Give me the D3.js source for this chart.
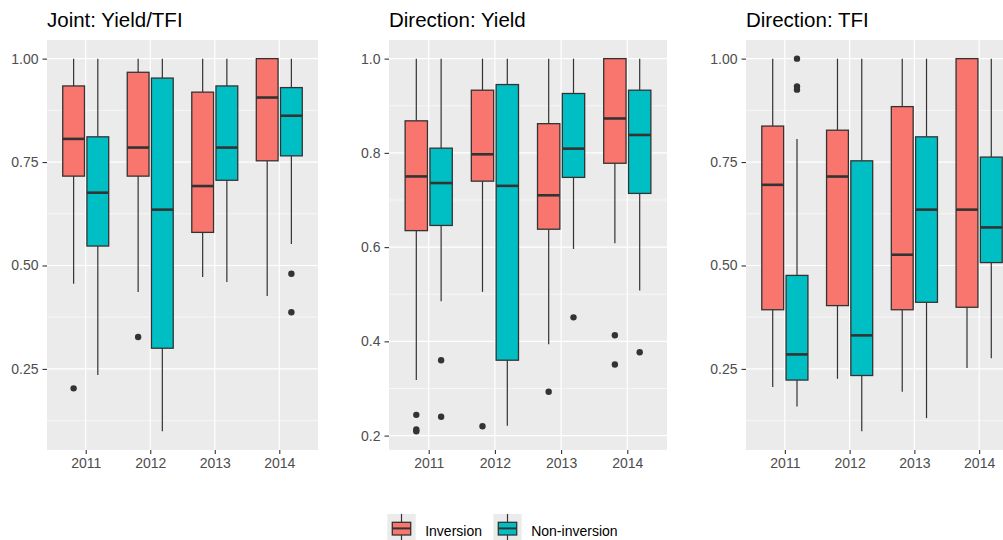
<!DOCTYPE html>
<html>
<head>
<meta charset="utf-8">
<script src="https://cdn.jsdelivr.net/npm/d3@7"></script>
<style>
  html, body { margin: 0; padding: 0; background: #fff; }
  svg { display: block; font-family: "Liberation Sans", Arial, sans-serif; }
</style>
</head>
<body>
<svg id="chart" width="1003" height="540"></svg>
<script>
// Years and groups
const years = ["2011", "2012", "2013", "2014"];
const groups = ["Inversion", "Non-inversion"];
const groupColors = ["#F8766D", "#00BFC4"];

// Box statistics per year: [lower whisker, Q1, median, Q3, upper whisker]
const jointInversion    = [[0.456, 0.716, 0.806, 0.934, 1.00], [0.436, 0.716, 0.785, 0.967, 1.00], [0.472, 0.580, 0.692, 0.919, 1.00], [0.426, 0.753, 0.906, 1.000, 1.00]];
const jointNonInversion = [[0.235, 0.547, 0.676, 0.811, 1.00], [0.099, 0.300, 0.635, 0.953, 1.00], [0.460, 0.706, 0.785, 0.934, 1.00], [0.552, 0.765, 0.862, 0.930, 1.00]];
const jointInversionOut    = [[0.203], [0.327], [], []];
const jointNonInversionOut = [[], [], [], [0.480, 0.387]];

const yieldInversion    = [[0.318, 0.635, 0.750, 0.868, 1.00], [0.505, 0.740, 0.797, 0.933, 1.00], [0.394, 0.638, 0.710, 0.862, 1.00], [0.608, 0.778, 0.873, 1.000, 1.00]];
const yieldNonInversion = [[0.485, 0.646, 0.736, 0.810, 1.00], [0.221, 0.360, 0.730, 0.945, 1.00], [0.596, 0.748, 0.809, 0.926, 1.00], [0.508, 0.714, 0.838, 0.933, 1.00]];
const yieldInversionOut    = [[0.244, 0.213, 0.209], [0.220], [0.293], [0.413, 0.351]];
const yieldNonInversionOut = [[0.360, 0.240], [], [0.451], [0.377]];

const tfiInversion    = [[0.206, 0.393, 0.695, 0.837, 1.00], [0.226, 0.403, 0.715, 0.827, 1.00], [0.195, 0.393, 0.526, 0.884, 1.00], [0.252, 0.399, 0.635, 1.000, 1.00]];
const tfiNonInversion = [[0.159, 0.223, 0.285, 0.476, 0.806], [0.099, 0.234, 0.331, 0.753, 1.00], [0.131, 0.411, 0.635, 0.811, 1.00], [0.276, 0.507, 0.592, 0.762, 1.00]];
const tfiInversionOut    = [[], [], [], []];
const tfiNonInversionOut = [[1.00, 0.933, 0.925], [], [], []];

// Axis tick values
const ticksQuarter = [0.25, 0.50, 0.75, 1.00];
const ticksFifth = [0.2, 0.4, 0.6, 0.8, 1.0];

const panels = [
  { title: "Joint: Yield/TFI", x0: 47, x1: 318, stats: [jointInversion, jointNonInversion], outs: [jointInversionOut, jointNonInversionOut], ticks: ticksQuarter, fmt: d3.format(".2f") },
  { title: "Direction: Yield", x0: 389, x1: 667, stats: [yieldInversion, yieldNonInversion], outs: [yieldInversionOut, yieldNonInversionOut], ticks: ticksFifth, fmt: d3.format(".1f") },
  { title: "Direction: TFI", x0: 746, x1: 1018, stats: [tfiInversion, tfiNonInversion], outs: [tfiInversionOut, tfiNonInversionOut], ticks: ticksQuarter, fmt: d3.format(".2f") }
];

const svg = d3.select("#chart");
const panelTop = 40, panelBottom = 450;
const ink = "#333333";

panels.forEach(p => {
  // y range covers whiskers and outliers, expanded 5% each side
  const vals = [];
  p.stats.forEach(s => s.forEach(r => vals.push(r[0], r[4])));
  p.outs.forEach(o => o.forEach(a => a.forEach(v => vals.push(v))));
  const [mn, mx] = d3.extent(vals);
  const pad = (mx - mn) * 0.05;
  const y = d3.scaleLinear().domain([mn - pad, mx + pad]).range([panelBottom, panelTop]);
  const x = d3.scalePoint().domain(years).range([p.x0, p.x1]).padding(0.6);
  const step = x.step();

  const g = svg.append("g");

  // panel background
  g.append("rect").attr("x", p.x0).attr("y", panelTop)
    .attr("width", p.x1 - p.x0).attr("height", panelBottom - panelTop).attr("fill", "#EBEBEB");

  // minor grid lines at midpoints between ticks
  const tstep = p.ticks[1] - p.ticks[0];
  const minor = [];
  for (let v = p.ticks[0] - tstep / 2; v <= y.domain()[1]; v += tstep) {
    if (v >= y.domain()[0]) minor.push(v);
  }
  g.selectAll(".minor").data(minor).join("line")
    .attr("x1", p.x0).attr("x2", p.x1)
    .attr("y1", d => y(d)).attr("y2", d => y(d))
    .attr("stroke", "#fff").attr("stroke-width", 0.6);

  // major grid lines
  g.selectAll(".majory").data(p.ticks).join("line")
    .attr("x1", p.x0).attr("x2", p.x1)
    .attr("y1", d => y(d)).attr("y2", d => y(d))
    .attr("stroke", "#fff").attr("stroke-width", 1.2);
  g.selectAll(".majorx").data(years).join("line")
    .attr("x1", d => x(d)).attr("x2", d => x(d))
    .attr("y1", panelTop).attr("y2", panelBottom)
    .attr("stroke", "#fff").attr("stroke-width", 1.2);

  // y axis
  const yAxis = d3.axisLeft(y).tickValues(p.ticks).tickFormat(p.fmt).tickSize(4.5).tickPadding(4);
  const ya = g.append("g").attr("transform", `translate(${p.x0},0)`).call(yAxis);
  ya.select(".domain").remove();
  ya.selectAll("line").attr("stroke", ink).attr("stroke-width", 1.1);
  ya.selectAll("text").attr("fill", "#4D4D4D").style("font-size", "14px")
    .style("font-family", "'Liberation Sans', Arial, sans-serif");

  // x axis
  const xAxis = d3.axisBottom(x).tickSize(4).tickPadding(4);
  const xa = g.append("g").attr("transform", `translate(0,${panelBottom})`).call(xAxis);
  xa.select(".domain").remove();
  xa.selectAll("line").attr("stroke", ink).attr("stroke-width", 1.1);
  xa.selectAll("text").attr("fill", "#4D4D4D").style("font-size", "14px")
    .style("font-family", "'Liberation Sans', Arial, sans-serif");

  // title
  g.append("text").attr("x", p.x0).attr("y", 27)
    .attr("fill", "#000").style("font-size", "20.5px").text(p.title);

  // boxes, dodged by group
  const bw = 0.3375 * step;
  groups.forEach((grp, gi) => {
    const off = (gi === 0 ? -1 : 1) * 0.1875 * step;
    const gg = g.append("g");
    p.stats[gi].forEach((r, yi) => {
      const cx = x(years[yi]) + off;
      // whiskers
      gg.append("line").attr("x1", cx).attr("x2", cx).attr("y1", y(r[4])).attr("y2", y(r[3]))
        .attr("stroke", ink).attr("stroke-width", 1.2);
      gg.append("line").attr("x1", cx).attr("x2", cx).attr("y1", y(r[1])).attr("y2", y(r[0]))
        .attr("stroke", ink).attr("stroke-width", 1.2);
      // box
      gg.append("rect").attr("x", cx - bw / 2).attr("y", y(r[3]))
        .attr("width", bw).attr("height", y(r[1]) - y(r[3]))
        .attr("fill", groupColors[gi]).attr("stroke", ink).attr("stroke-width", 1.3);
      // median
      gg.append("line").attr("x1", cx - bw / 2).attr("x2", cx + bw / 2)
        .attr("y1", y(r[2])).attr("y2", y(r[2]))
        .attr("stroke", ink).attr("stroke-width", 2.6);
      // outliers
      p.outs[gi][yi].forEach(v => {
        gg.append("circle").attr("cx", cx).attr("cy", y(v)).attr("r", 3.2).attr("fill", ink);
      });
    });
  });
});

// legend
const legendX = [387.3, 493.3];
const keySize = 28.4, keyTop = 514;
groups.forEach((grp, gi) => {
  const lg = svg.append("g").attr("transform", `translate(${legendX[gi]},${keyTop})`);
  lg.append("rect").attr("width", keySize).attr("height", keySize).attr("fill", "#EBEBEB");
  const c = keySize / 2;
  lg.append("line").attr("x1", c).attr("x2", c).attr("y1", 0).attr("y2", keySize)
    .attr("stroke", ink).attr("stroke-width", 1.2);
  lg.append("rect").attr("x", 5).attr("y", 8.3).attr("width", keySize - 10).attr("height", 12.7)
    .attr("fill", groupColors[gi]).attr("stroke", ink).attr("stroke-width", 1.3);
  lg.append("line").attr("x1", 5).attr("x2", keySize - 5).attr("y1", 14.4).attr("y2", 14.4)
    .attr("stroke", ink).attr("stroke-width", 2);
  lg.append("text").attr("x", keySize + 9.5).attr("y", 21.7)
    .attr("fill", "#000").style("font-size", "14px").text(grp);
});
</script>
</body>
</html>
